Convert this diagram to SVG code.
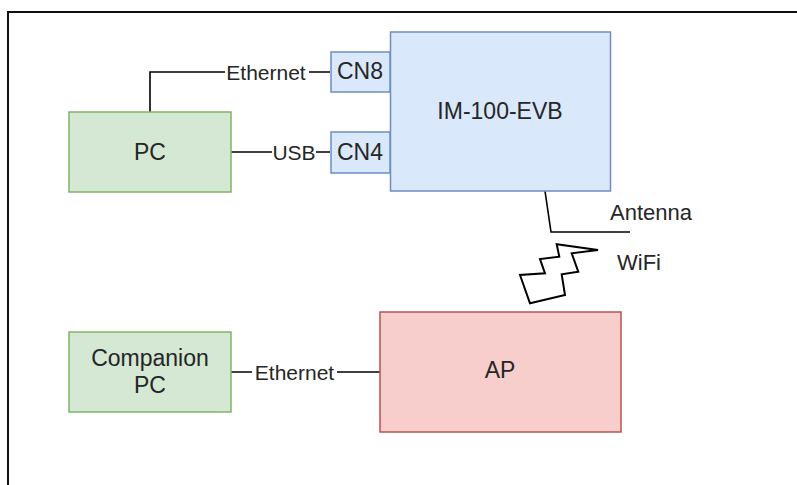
<svg xmlns="http://www.w3.org/2000/svg" width="797" height="485" viewBox="0 0 797 485">
<style>
text{font-family:"Liberation Sans",Arial,sans-serif;fill:#262626}
.n{font-size:23px;text-anchor:middle}
.l{font-size:21px;text-anchor:middle}
.t{font-size:22px}
.blue{fill:#dae8fc;stroke:#6c8ebf;stroke-width:1.5}
.green{fill:#d5e8d4;stroke:#82b366;stroke-width:1.5}
.red{fill:#f8cecc;stroke:#b85450;stroke-width:1.5}
.c{fill:none;stroke:#000;stroke-width:1.6}
.bg{fill:#fff}
</style>
<rect width="797" height="485" fill="#fff"/>
<path d="M8,485 V12 H797" fill="none" stroke="#111" stroke-width="2"/>
<g id="connectors">
<path class="c" d="M150,112 V72 H330"/>
<rect class="bg" x="225" y="60" width="84" height="24"/>
<text class="l" x="266" y="79.5">Ethernet</text>
<path class="c" d="M231,152 H330"/>
<rect class="bg" x="272" y="140" width="44" height="24"/>
<text class="l" x="294" y="159.5">USB</text>
<path class="c" d="M231,372 H380"/>
<rect class="bg" x="252" y="360" width="85" height="24"/>
<text class="l" x="294.5" y="379.5">Ethernet</text>
<path class="c" d="M545,191 L551,232 H630"/>
</g>
<g id="im100evb"><rect class="blue" x="390.5" y="32" width="220" height="159"/><text class="n" x="500" y="119">IM-100-EVB</text></g>
<g id="cn8"><rect class="blue" x="331" y="52" width="59" height="40"/><text class="n" x="360" y="79">CN8</text></g>
<g id="cn4"><rect class="blue" x="331" y="132" width="59" height="41"/><text class="n" x="360" y="160">CN4</text></g>
<g id="pc"><rect class="green" x="69" y="112" width="162" height="80"/><text class="n" x="150" y="160">PC</text></g>
<g id="companion"><rect class="green" x="69" y="332" width="162" height="80"/><text class="n" x="150" y="366">Companion</text><text class="n" x="150" y="393">PC</text></g>
<g id="ap"><rect class="red" x="380" y="312" width="241" height="120"/><text class="n" x="500" y="378">AP</text></g>
<g id="antenna"><text class="t" x="610" y="220">Antenna</text></g>
<g id="wifi">
<polygon points="598,250 556.7,244.3 559.3,256.7 540,259 545,273.3 520,275 530,303.3 565,295 561.7,274.3 578.3,271.7 571.7,253.3" fill="none" stroke="#000" stroke-width="2" stroke-linejoin="miter"/>
<text class="t" x="617" y="270">WiFi</text>
</g>
</svg>
